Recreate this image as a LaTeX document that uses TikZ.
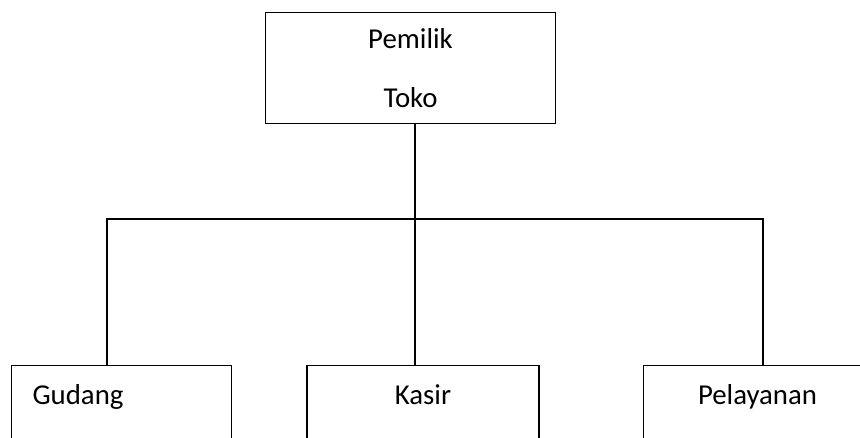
\documentclass[tikz,border=0pt]{standalone}
\usepackage{fontspec}
\setmainfont{Carlito}
\def\pxu{0.02cm}
\tikzstyle{unit}=[draw,line width=0.6pt,inner sep=0pt,font=\fontsize{16.4}{33.5}\selectfont]
\tikzstyle{staff}=[unit,text height=39*\pxu,text depth=110*\pxu]
\tikzstyle{link}=[line width=0.6pt]
\begin{document}
\begin{tikzpicture}[x=\pxu,y=-\pxu]
  \clip (0,0) rectangle (860,438);
  % OWNER
  \node[unit,anchor=north west,minimum width=290*\pxu,minimum height=111*\pxu,align=center]
    (pemilik) at (265,12) {Pemilik\\Toko};
  % BUS
  \coordinate (bus)  at (415,219);
  \coordinate (busL) at (107,219);
  \coordinate (busR) at (763,219);
  % STAFF
  \node[staff,anchor=north west,inner xsep=21*\pxu,text width=178*\pxu,align=left]
    (gudang) at (11,365) {Gudang};
  \node[staff,anchor=north,minimum width=232*\pxu] (kasir) at (423,365) {Kasir};
  \node[staff,anchor=north west,minimum width=228*\pxu] (pelayanan) at (643,365) {Pelayanan};
  % LINKS
  \draw[link] (pemilik.south -| bus) -- (bus);
  \draw[link] (gudang.north -| busL) -- (busL) -- (busR) -- (pelayanan.north -| busR);
  \draw[link] (bus) -- (kasir.north -| bus);
\end{tikzpicture}
\end{document}
